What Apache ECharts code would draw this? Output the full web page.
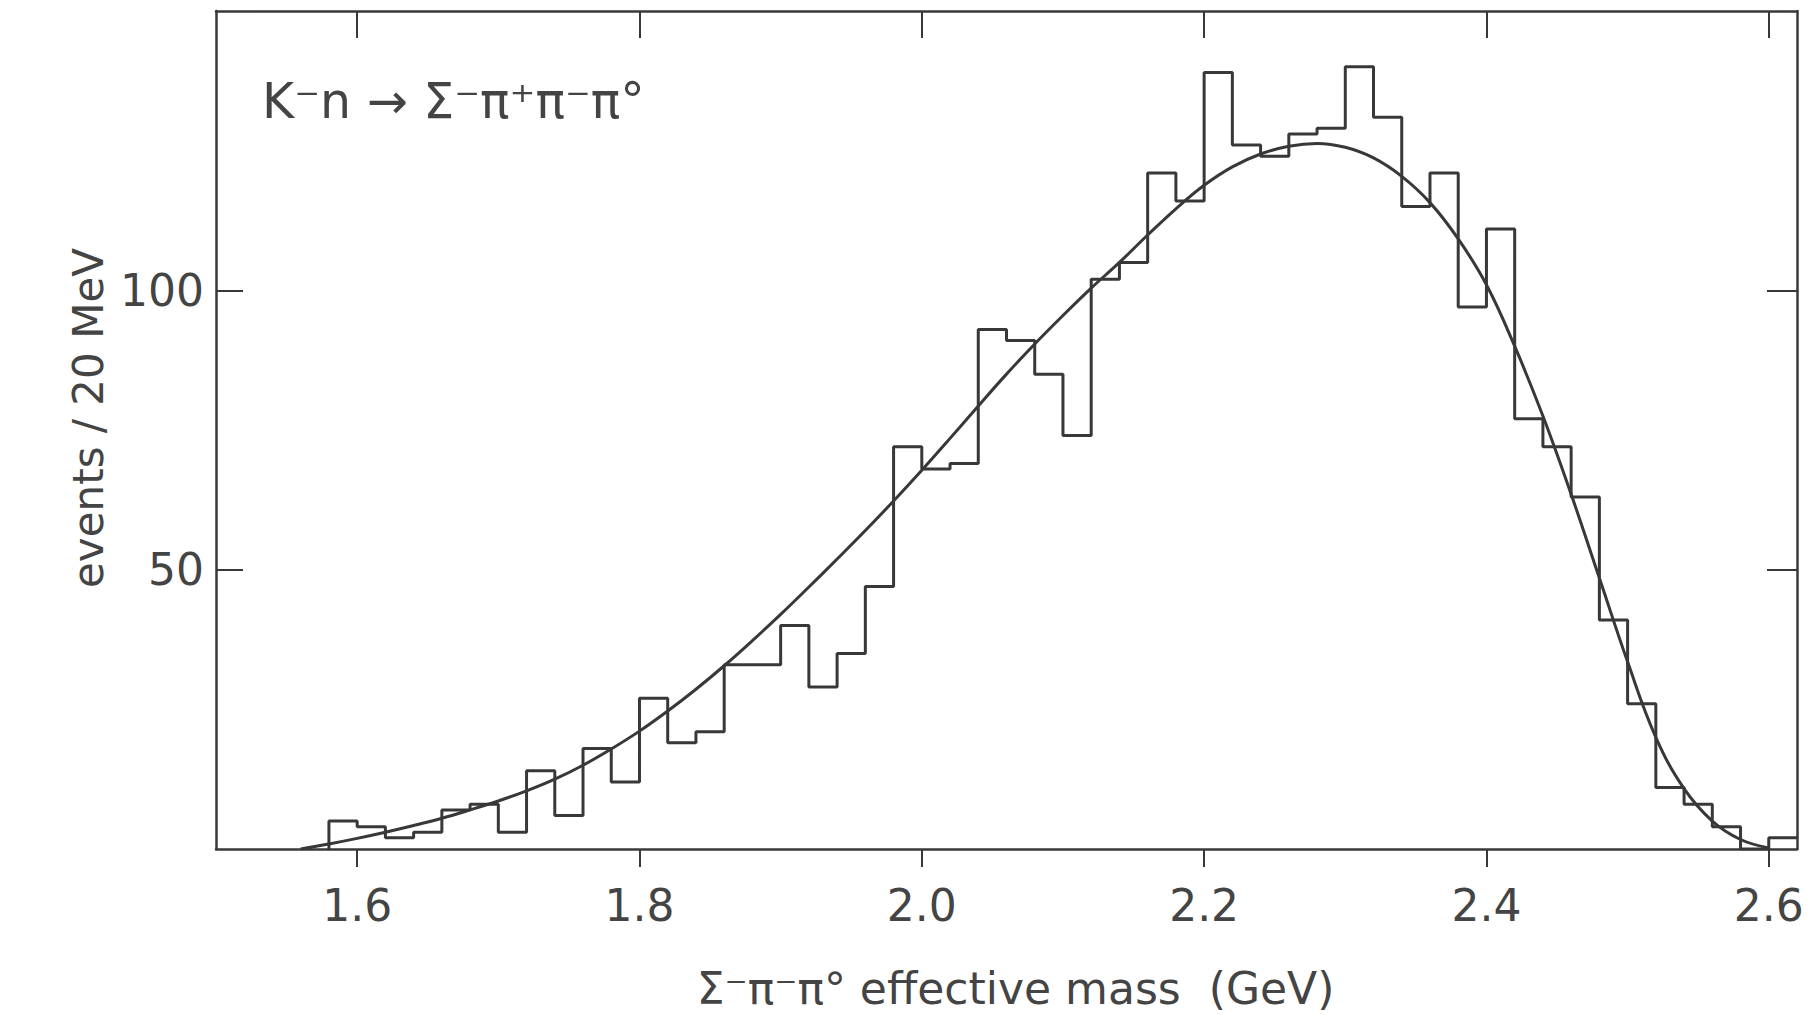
<!DOCTYPE html>
<html>
<head>
<meta charset="utf-8">
<script src="https://cdn.jsdelivr.net/npm/echarts@6/dist/echarts.min.js"></script>
<style>
html,body{margin:0;padding:0;background:#fff;}
#chart{width:1814px;height:1015px;}
</style>
</head>
<body>
<div id="chart"></div>
<script>
// ---- data ----
const binStart = [1.58,1.60,1.62,1.64,1.66,1.68,1.70,1.72,1.74,1.76,1.78,1.80,1.82,1.84,1.86,1.88,1.90,1.92,1.94,1.96,
  1.98,2.00,2.02,2.04,2.06,2.08,2.10,2.12,2.14,2.16,2.18,2.20,2.22,2.24,2.26,2.28,2.30,2.32,2.34,2.36,
  2.38,2.40,2.42,2.44,2.46,2.48,2.50,2.52,2.54,2.56,2.58,2.60];
const counts = [5,4,2,3,7,8,3,14,6,18,12,27,19,21,33,33,40,29,35,47,
  72,68,69,93,91,85,74,102,105,121,116,139,126,124,128,129,140,131,115,121,
  97,111,77,72,63,41,26,11,8,4,0,2];
const histEnd = 2.62;

const fitX = [1.56,1.58,1.60,1.62,1.64,1.66,1.68,1.70,1.72,1.74,1.76,1.78,1.80,1.82,1.84,1.86,1.88,1.90,1.92,1.94,
  1.96,1.98,2.00,2.02,2.04,2.06,2.08,2.10,2.12,2.14,2.16,2.18,2.20,2.22,2.24,2.26,2.28,2.30,2.32,2.34,
  2.36,2.38,2.40,2.42,2.44,2.46,2.48,2.50,2.52,2.54,2.56,2.58,2.60];
const fitY = [0,0.9,1.9,3.0,4.2,5.5,7.0,8.6,10.4,12.5,15.0,17.9,21.1,24.7,28.6,32.8,37.3,42.0,46.9,51.9,
  57.0,62.3,67.8,73.5,79.3,85.0,90.4,95.5,100.4,105.0,109.9,114.6,118.8,122.1,124.4,125.8,126.3,125.6,123.7,120.4,
  115.7,109.2,101.0,90.0,77.5,63.5,48.5,33.5,20.0,10.8,5.0,1.7,0.2];

const xTicks = [1.6,1.8,2.0,2.2,2.4,2.6];
const yTicks = [50,100];

const reactionLabel = 'K\u207Bn \u2192 \u03A3\u207B\u03C0\u207A\u03C0\u207B\u03C0\u00B0';
const xName = '\u03A3\u207B\u03C0\u207B\u03C0\u00B0 effective mass  (GeV)';
const yName = 'events / 20 MeV';

// ---- build series data ----
const histData = [[binStart[0], 0]];
binStart.forEach((x, i) => histData.push([x, counts[i]]));
histData.push([histEnd, counts[counts.length - 1]]);
const fitData = fitX.map((x, i) => [x, fitY[i]]);

const ink = '#383838';
const txt = '#444444';
const font = 'DejaVu Sans';

const chart = echarts.init(document.getElementById('chart'), null, {renderer: 'svg'});
chart.setOption({
  animation: false,
  backgroundColor: '#ffffff',
  title: {
    text: reactionLabel,
    left: 262, top: 77, padding: 0,
    textStyle: {fontFamily: font, fontSize: 49, fontWeight: 'normal', color: txt}
  },
  grid: {left: 216, right: 17, top: 11, bottom: 164, containLabel: false},
  xAxis: [{
    type: 'value', min: 1.5, max: 2.62, position: 'bottom',
    name: xName, nameLocation: 'middle', nameGap: 117,
    nameTextStyle: {fontFamily: font, fontSize: 44, color: txt, padding: [0, 0, 0, 18]},
    axisLine: {show: true, onZero: false, lineStyle: {color: ink, width: 2.5}},
    axisTick: {show: true, inside: false, length: 18, customValues: xTicks, lineStyle: {color: ink, width: 2}},
    axisLabel: {show: true, customValues: xTicks, margin: 34, fontFamily: font, fontSize: 44, color: txt,
      formatter: v => v.toFixed(1)},
    splitLine: {show: false}
  }, {
    type: 'value', min: 1.5, max: 2.62, position: 'top',
    axisLine: {show: true, onZero: false, lineStyle: {color: ink, width: 2.5}},
    axisTick: {show: true, inside: true, length: 27, customValues: xTicks, lineStyle: {color: ink, width: 2}},
    axisLabel: {show: false},
    splitLine: {show: false}
  }],
  yAxis: [{
    type: 'value', min: 0, max: 150, position: 'left',
    name: yName, nameLocation: 'middle', nameGap: 100, nameRotate: 90,
    nameTextStyle: {fontFamily: font, fontSize: 42, color: txt, padding: [0, 0, 0, 24]},
    axisLine: {show: true, onZero: false, lineStyle: {color: ink, width: 2.5}},
    axisTick: {show: true, inside: true, length: 27, customValues: yTicks, lineStyle: {color: ink, width: 2}},
    axisLabel: {show: true, customValues: yTicks, margin: 12, fontFamily: font, fontSize: 44, color: txt},
    splitLine: {show: false}
  }, {
    type: 'value', min: 0, max: 150, position: 'right',
    axisLine: {show: true, onZero: false, lineStyle: {color: ink, width: 2.5}},
    axisTick: {show: true, inside: true, length: 30, customValues: yTicks, lineStyle: {color: ink, width: 2}},
    axisLabel: {show: false},
    splitLine: {show: false}
  }],
  series: [{
    name: 'histogram', type: 'line', step: 'end', data: histData,
    xAxisIndex: 0, yAxisIndex: 0,
    symbol: 'none', lineStyle: {color: ink, width: 3}, silent: true
  }, {
    name: 'fit', type: 'line', smooth: 0.4, data: fitData,
    xAxisIndex: 0, yAxisIndex: 0,
    symbol: 'none', lineStyle: {color: ink, width: 3}, silent: true
  }]
});
</script>
</body>
</html>
